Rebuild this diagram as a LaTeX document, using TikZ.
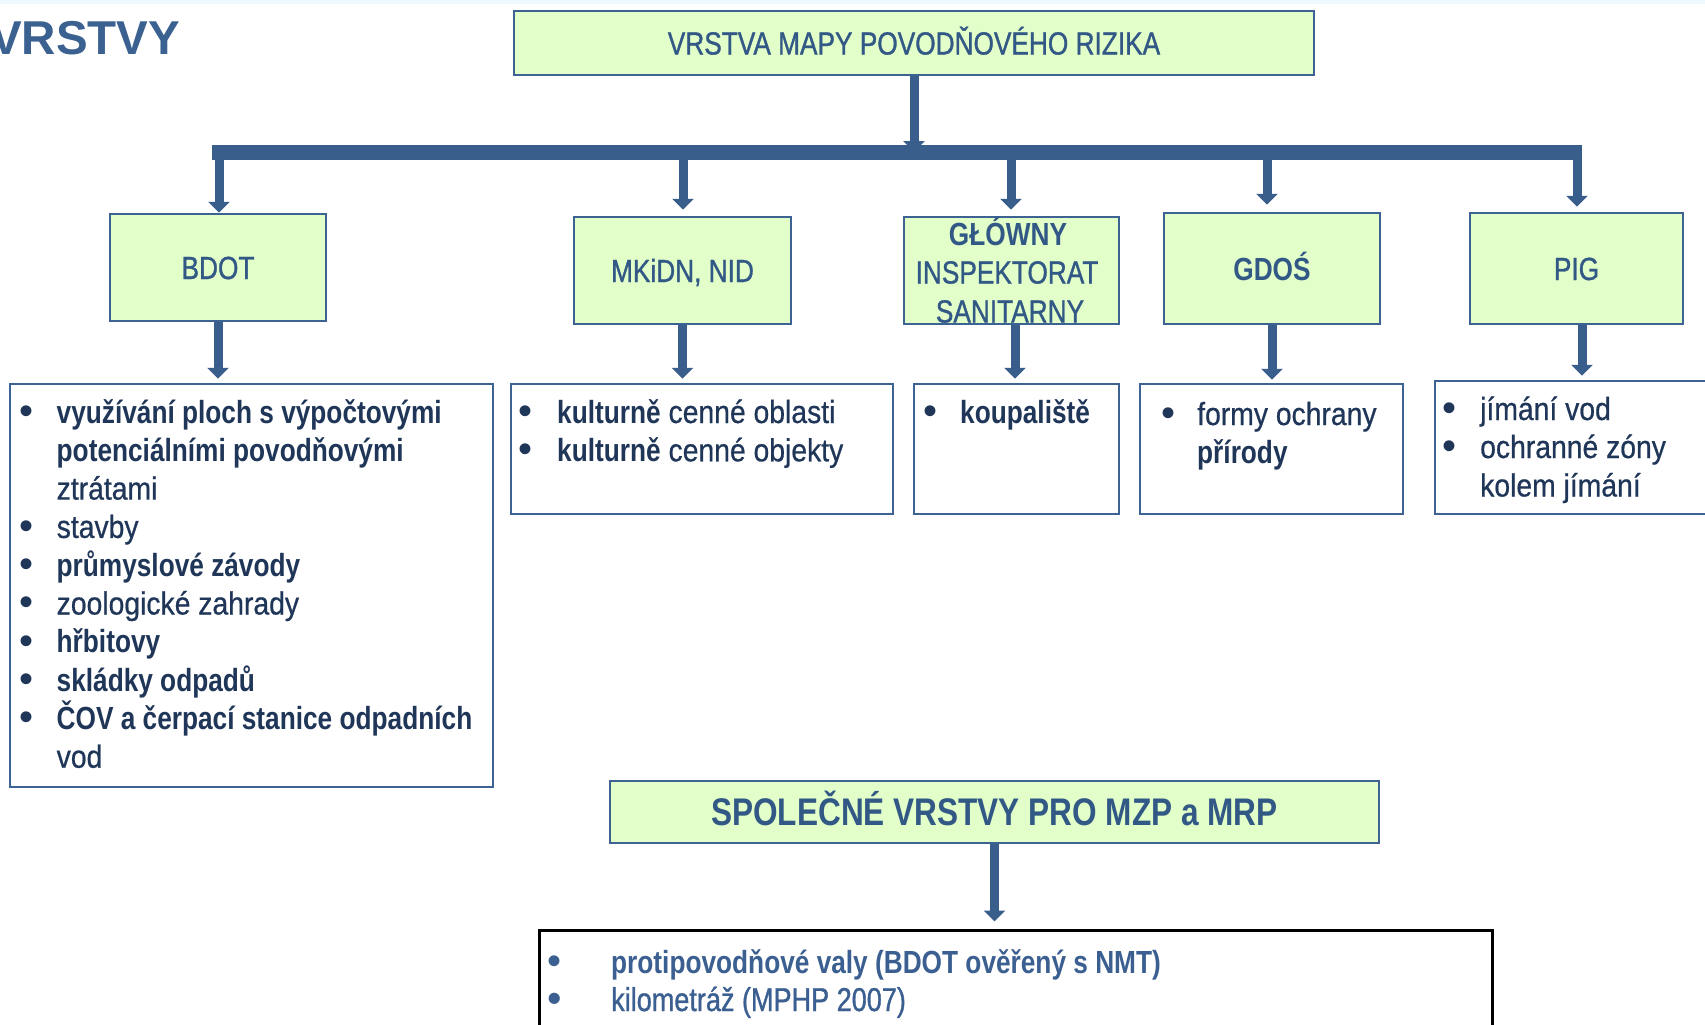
\documentclass[tikz,border=0pt]{standalone}
\usepackage{fontspec}
\setmainfont{Liberation Sans}
\newfontfamily\nar[FakeStretch=0.82, UprightFeatures={FakeBold=1.0}]{Liberation Sans}
\newfontfamily\lst[UprightFeatures={FakeStretch=0.885,FakeBold=0.6}, BoldFeatures={FakeStretch=0.82}]{Liberation Sans}
\usetikzlibrary{arrows.meta}
\definecolor{boxfill}{HTML}{E2FEC9}
\definecolor{boxline}{HTML}{3D6392}
\definecolor{arrowc}{HTML}{3A5E8C}
\definecolor{labc}{HTML}{325886}
\definecolor{listc}{HTML}{1F3658}
\definecolor{titlec}{HTML}{3B6191}
\definecolor{botc}{HTML}{3A5F90}
\newcommand\bl[1]{\makebox[#1][l]{\raisebox{-1.2bp}{\scalebox{1.25}{\normalfont\mdseries •}}}}
\begin{document}
\begin{tikzpicture}[x=1bp,y=-1bp,
  greenbox/.style={draw=boxline, line width=2.5bp, fill=boxfill, inner sep=0pt,
    text=labc, font=\nar\fontsize{32bp}{39bp}\selectfont, text height=23bp, text depth=0bp},
  listbox/.style={draw=boxline, line width=2.5bp, fill=white, inner sep=0pt},
  lab/.style={text=labc, font=\nar\fontsize{32bp}{39bp}\selectfont, inner sep=0pt, anchor=base},
  item/.style={text=listc, font=\lst\fontsize{32bp}{38bp}\selectfont, inner sep=0pt, anchor=base west},
  botitem/.style={item, text=botc},
  conn/.style={draw=arrowc, line width=9bp, -{Triangle[width=21bp,length=11bp]}},
  busline/.style={draw=arrowc, line width=15bp},
]
\useasboundingbox (0,0) rectangle (1705,1024);
\fill[white] (0,0) rectangle (1705,1024);
\fill[cyan!7] (0,0) rectangle (1705,4);

% title
\node[anchor=base west, inner sep=0pt, text=titlec, font=\bfseries\fontsize{47.5bp}{50bp}\selectfont] (title) at (-10,54.4) {VRSTVY};

% top box
\node[greenbox, minimum width=800bp, minimum height=64bp] (top) at (914,43) {VRSTVA MAPY POVODŇOVÉHO RIZIKA};

% second-level boxes
\node[greenbox, minimum width=216bp, minimum height=107bp] (bdot) at (218,267.5) {BDOT};
\node[greenbox, minimum width=217bp, minimum height=107bp] (mkidn) at (682.5,270.5) {MKiDN, NID};
\node[greenbox, minimum width=215bp, minimum height=107bp] (glowny) at (1011.5,270.5) {};
\node[greenbox, minimum width=216bp, minimum height=111bp] (gdos) at (1272,268.5) {\bfseries GDOŚ};
\node[greenbox, minimum width=213bp, minimum height=111bp] (pig) at (1576.5,268.5) {PIG};
\node[lab, font=\nar\bfseries\fontsize{32bp}{39bp}\selectfont] (g1) at (1008,245.5) {GŁÓWNY};
\node[lab] (g2) at (1007,283.5) {INSPEKTORAT};
\node[lab] (g3) at (1010,322.5) {SANITARNY};

% bus
\coordinate (busL) at (212,152);
\coordinate (busR) at (1582,152);
\coordinate (bus0) at (914,152);
\coordinate (b1) at (219,152);
\coordinate (b2) at (683,152);
\coordinate (b3) at (1011,152);
\coordinate (b4) at (1267,152);
\coordinate (b5) at (1577,152);
\draw[busline] (busL) -- (busR);
\draw[conn] (top.south) -- (bus0);
\draw[conn] (b1) -- (b1 |- bdot.north);
\draw[conn, shorten >=6bp] (b2) -- (b2 |- mkidn.north);
\draw[conn, shorten >=6bp] (b3) -- (b3 |- glowny.north);
\draw[conn, shorten >=7bp] (b4) -- (b4 |- gdos.north);
\draw[conn, shorten >=5bp] (b5) -- (b5 |- pig.north);

% list boxes
\node[listbox, minimum width=483bp, minimum height=403bp] (l1) at (251.5,585.5) {};
\node[listbox, minimum width=382bp, minimum height=130bp] (l2) at (702,449) {};
\node[listbox, minimum width=205bp, minimum height=130bp] (l3) at (1016.5,449) {};
\node[listbox, minimum width=263bp, minimum height=130bp] (l4) at (1271.5,449) {};
\node[listbox, minimum width=277bp, minimum height=133bp] (l5) at (1573.5,447.5) {};

\draw[conn, shorten >=4bp] (bdot.south) -- (bdot.south |- l1.north);
\draw[conn, shorten >=4bp] (mkidn.south) -- (mkidn.south |- l2.north);
\draw[conn, shorten >=4bp] ([xshift=3.5bp]glowny.south) -- ([xshift=3.5bp]glowny.south |- l3.north);
\draw[conn, shorten >=3bp] (gdos.south) -- (gdos.south |- l4.north);
\draw[conn, shorten >=4bp] ([xshift=5.5bp]pig.south) -- ([xshift=5.5bp]pig.south |- l5.north);

% list 1
\node[item] (l1a) at (19,423) {\bl{37.5bp}\textbf{využívání ploch s výpočtovými}};
\node[item] (l1b) at (56.5,461.3) {\textbf{potenciálními povodňovými}};
\node[item] (l1c) at (56.5,499.6) {ztrátami};
\node[item] (l1d) at (19,537.9) {\bl{37.5bp}stavby};
\node[item] (l1e) at (19,576.2) {\bl{37.5bp}\textbf{průmyslové závody}};
\node[item] (l1f) at (19,614.5) {\bl{37.5bp}zoologické zahrady};
\node[item] (l1g) at (19,652.8) {\bl{37.5bp}\textbf{hřbitovy}};
\node[item] (l1h) at (19,691.1) {\bl{37.5bp}\textbf{skládky odpadů}};
\node[item] (l1i) at (19,729.4) {\bl{37.5bp}\textbf{ČOV a čerpací stanice odpadních}};
\node[item] (l1j) at (56.5,767.7) {vod};

% list 2
\node[item] (l2a) at (518,423) {\bl{39bp}\textbf{kulturně} cenné oblasti};
\node[item] (l2b) at (518,461.3) {\bl{39bp}\textbf{kulturně} cenné objekty};

% list 3
\node[item] (l3a) at (923,423) {\bl{37bp}\textbf{koupaliště}};

% list 4
\node[item] (l4a) at (1161,425) {\bl{36bp}formy ochrany};
\node[item] (l4b) at (1197,463) {\textbf{přírody}};

% list 5
\node[item] (l5a) at (1442,420) {\bl{38bp}jímání vod};
\node[item] (l5b) at (1442,458) {\bl{38bp}ochranné zóny};
\node[item] (l5c) at (1480,496.5) {kolem jímání};

% common layers
\node[greenbox, minimum width=769bp, minimum height=62bp, font=\nar\bfseries\fontsize{38.5bp}{40bp}\selectfont, text height=27.5bp] (spol) at (994.5,812) {SPOLEČNÉ VRSTVY PRO MZP a MRP};
\node[draw=black, line width=3bp, fill=white, inner sep=0pt, minimum width=953bp, minimum height=105bp] (bot) at (1015.5,982.5) {};
\draw[conn, shorten >=7bp] (spol.south) -- (spol.south |- bot.north);
\node[botitem] (ba) at (547,973) {\bl{64bp}\textbf{protipovodňové valy (BDOT ověřený s NMT)}};
\node[botitem, font=\nar\fontsize{33bp}{38bp}\selectfont] (bb) at (547,1011) {\bl{64bp}kilometráž (MPHP 2007)};
\end{tikzpicture}
\end{document}
